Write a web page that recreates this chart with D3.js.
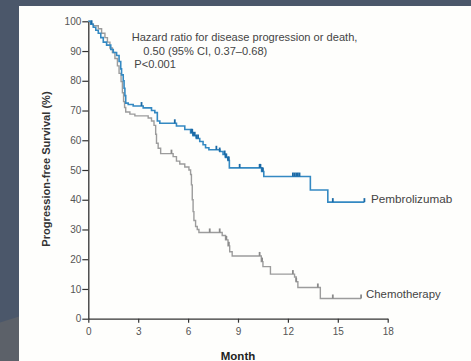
<!DOCTYPE html>
<html>
<head>
<meta charset="utf-8">
<script src="https://cdn.jsdelivr.net/npm/d3@7"></script>
<style>
html,body{margin:0;padding:0;background:#4b576a;}
svg{display:block;}
</style>
</head>
<body>
<svg id="chart" width="471" height="361"></svg>
<script>
// ---- data ----
const months = [0, 3, 6, 9, 12, 15, 18];
const pctTicks = [0, 10, 20, 30, 40, 50, 60, 70, 80, 90, 100];

const pembroTime = [0,0.15,0.3,0.45,0.6,0.75,0.9,1.1,1.35,1.5,1.7,1.85,1.95,2.0,2.1,2.15,2.2,2.25,2.4,2.7,3.3,3.8,4.0,4.15,4.3,5.3,5.8,6.15,6.3,6.5,6.7,6.9,7.05,7.25,7.9,8.1,8.25,8.4,8.48,10.42,10.55,13.35,14.4,16.6];
const pembroSurv = [100,99,98,97,96,94.5,93,92,90.5,89.5,88.5,86.5,84,82,80,77.5,75,72.5,72,71.5,70.9,70,69.3,66.5,65.7,64.8,63.6,62.5,61.5,60.6,59.6,58.5,57.5,56.8,56.2,55.2,54.2,53.2,50.7,49.5,47.8,43.3,39.2,39.2];
const pembroCensor = [0.2,3.2,5.2,6.2,6.25,6.3,6.4,6.5,6.6,7.7,7.9,8.2,8.25,8.3,8.4,8.45,9.1,10.3,10.35,10.45,10.5,12.3,12.4,12.5,12.6,12.7,14.7,16.6];

const chemoTime = [0,0.1,0.3,0.6,0.8,1.0,1.15,1.3,1.45,1.6,1.75,1.85,1.97,2.05,2.12,2.18,2.25,2.5,2.8,3.6,3.8,3.95,4.05,4.1,4.2,4.35,5.1,5.3,5.5,5.8,6.05,6.15,6.2,6.25,6.3,6.35,6.45,6.55,6.65,8.05,8.25,8.4,8.5,8.65,10.4,10.5,10.95,12.4,12.5,12.6,13.95,16.4];
const chemoSurv = [100,99,98.5,97.5,96,94.5,93,91,89.5,87.5,85,82.5,79.7,76,73,71,69.5,68.8,68.2,67.5,66.5,65,62,59,57.3,55.5,54.5,53,52,51,50,48.5,45,40,36,33,31,30,29,28,26.5,24.5,22.5,21.1,19.2,17.5,15,14,12.4,10.5,6.8,6.8];
const chemoCensor = [5.0,7.3,7.9,8.3,8.45,10.3,10.45,12.3,12.5,13.8,14.7,16.4];

const seriesNames = ["Pembrolizumab", "Chemotherapy"];
const annotation = ["Hazard ratio for disease progression or death,", "0.50 (95% CI, 0.37\u20130.68)", "P<0.001"];

// ---- drawing ----
const svg = d3.select("#chart");
svg.append("rect").attr("x",0).attr("y",0).attr("width",471).attr("height",361).attr("fill","#4b576a");
svg.append("path").attr("d","M0,322.5 L19,316.5 L19,361 L0,361 Z").attr("fill","#5c6169");
svg.append("rect").attr("x",19).attr("y",6).attr("width",452).attr("height",355).attr("fill","#fefefc");

const x = d3.scaleLinear().domain([0,18]).range([88.3,387.7]);
const y = d3.scaleLinear().domain([0,100]).range([318.7,21.3]);

const font = "'Liberation Sans', Arial, sans-serif";

const yAxis = svg.append("g").attr("transform","translate(88.3,0)")
  .call(d3.axisLeft(y).tickValues(pctTicks).tickSize(6).tickSizeOuter(0).tickPadding(1));
const xAxis = svg.append("g").attr("transform","translate(0,318.7)")
  .call(d3.axisBottom(x).tickValues(months).tickSize(4).tickSizeOuter(0).tickPadding(5));
[yAxis,xAxis].forEach(g=>{
  g.selectAll(".domain").attr("stroke","#333").attr("stroke-width",1.3);
  g.selectAll(".tick line").attr("stroke","#333").attr("stroke-width",1.2);
  g.selectAll(".tick text").attr("fill","#555").style("font-family",font).style("font-size","10px");
});

function stepData(t, s){ return t.map((d,i)=>[d, s[i]]); }
const line = d3.line().x(d=>x(d[0])).y(d=>y(d[1])).curve(d3.curveStepAfter);

function survAt(t, s, time){
  let v = s[0];
  for(let i=0;i<t.length;i++){ if(t[i]<=time) v = s[i]; }
  return v;
}

const series = [
  {t: chemoTime, s: chemoSurv, c: chemoCensor, color:"#9c9c9c", mark:"#8a8a8a", w:1.4},
  {t: pembroTime, s: pembroSurv, c: pembroCensor, color:"#3489c2", mark:"#1b6aa6", w:1.6}
];
series.forEach(sr=>{
  svg.append("path").datum(stepData(sr.t, sr.s)).attr("d", line)
    .attr("fill","none").attr("stroke",sr.color).attr("stroke-width",sr.w);
  svg.append("g").selectAll("line").data(sr.c).join("line")
    .attr("x1",d=>x(d)).attr("x2",d=>x(d))
    .attr("y1",d=>y(survAt(sr.t,sr.s,d)))
    .attr("y2",d=>y(survAt(sr.t,sr.s,d))-4)
    .attr("stroke",sr.mark).attr("stroke-width",1.8);
});

svg.append("text").attr("x",371).attr("y",203.3).text(seriesNames[0])
  .attr("fill","#444").style("font-family",font).style("font-size","11.7px");
svg.append("text").attr("x",366).attr("y",298).text(seriesNames[1])
  .attr("fill","#444").style("font-family",font).style("font-size","11.4px");

const ann = [[131.7,41.2],[143.3,55],[134.3,68.2]];
annotation.forEach((txt,i)=>{
  svg.append("text").attr("x",ann[i][0]).attr("y",ann[i][1]).text(txt)
    .attr("fill","#444").style("font-family",font).style("font-size","11.1px");
});

svg.append("text").attr("transform","translate(49.5,169) rotate(-90)")
  .attr("text-anchor","middle").text("Progression-free Survival (%)")
  .attr("fill","#333").style("font-family",font).style("font-size","11.1px").style("font-weight","bold");

svg.append("text").attr("x",238).attr("y",360).attr("text-anchor","middle").text("Month")
  .attr("fill","#222").style("font-family",font).style("font-size","11.5px").style("font-weight","bold");
</script>
</body>
</html>
